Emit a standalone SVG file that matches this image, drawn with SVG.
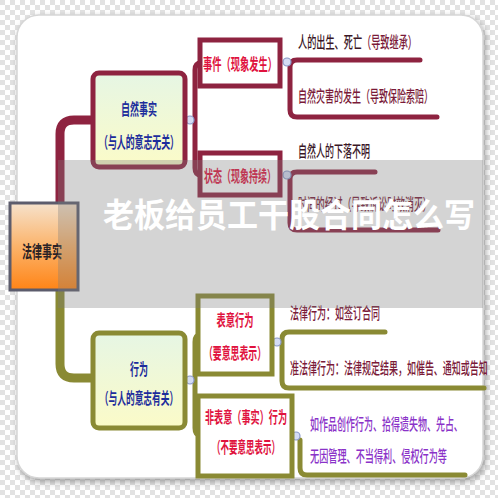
<svg xmlns="http://www.w3.org/2000/svg" width="498" height="498" viewBox="0 0 498 498">
<defs>
<pattern id="chk" width="10" height="10" patternUnits="userSpaceOnUse">
<rect width="10" height="10" fill="#ffffff"/>
<rect width="5" height="5" fill="#e2e2e2"/>
<rect x="5" y="5" width="5" height="5" fill="#e2e2e2"/>
</pattern>
<filter id="sh" x="-5%" y="-5%" width="110%" height="110%">
<feDropShadow dx="2" dy="3" stdDeviation="3" flood-color="#666" flood-opacity="0.6"/>
</filter>
<linearGradient id="gy" x1="0" y1="0" x2="0" y2="1">
<stop offset="0" stop-color="#e6f6e4"/>
<stop offset="1" stop-color="#fbfbc8"/>
</linearGradient>
<linearGradient id="go" x1="0" y1="0" x2="0" y2="1">
<stop offset="0" stop-color="#f6e2cc"/>
<stop offset="0.5" stop-color="#fbb36a"/>
<stop offset="1" stop-color="#ff8416"/>
</linearGradient>
<style>
.red{fill:none;stroke:#8e2340;stroke-width:5;stroke-linecap:round;stroke-linejoin:round}
.olv{fill:none;stroke:#8a8a34;stroke-width:5;stroke-linecap:round;stroke-linejoin:round}
.trunk{stroke-width:9}
.bxr{stroke:#8e2340;stroke-width:5}
.bxo{stroke:#8a8a34;stroke-width:5}
.dot{fill:#d4dcf4;stroke:#8a98c8;stroke-width:1.2}
text{font-family:"Noto Sans CJK SC","Noto Sans",sans-serif;font-size:16px;font-weight:500;dominant-baseline:central}
.lbl{font-weight:700;text-anchor:middle}
.blue{fill:#1c2c9c}
.rd{fill:#e0123e}
.dk{fill:#3a1626}
.mr{fill:#7a1a38}
.pu{fill:#8a32c8}
.big{font-size:33px;font-weight:700;fill:#ffffff}
.fl{font-size:17px;fill:#2a2226}
</style>
</defs>
<rect width="498" height="498" fill="url(#chk)"/>
<rect x="17" y="15" width="466" height="463" rx="22" fill="#ffffff" stroke="#d6d6d6" stroke-width="1.5" filter="url(#sh)"/>

<g id="connectors">
<path class="red trunk" d="M60 203 V134 Q60 120 74 120 H95"/>
<path class="olv trunk" d="M60 290 V364 Q60 378 74 378 H95"/>
<path class="red" d="M201 63 Q195 63 195 70 V168 Q195 175 201 175"/>
<path class="red" d="M420 60 H297 Q290 60 290 67 V110 Q290 117 297 117 H437"/>
<path class="red" d="M375 172 H297 Q290 172 290 179 V223 Q290 230 297 230 H438"/>
<path class="olv" d="M200 335 Q195 335 195 342 V428 Q195 435 200 435"/>
<path class="olv" d="M385 332 H289 Q282 332 282 339 V381 Q282 388 289 388 H484"/>
<path class="olv" d="M300 440 V468 Q300 475 307 475 H465"/>
<circle class="dot" cx="190" cy="120" r="4"/>
<circle class="dot" cx="190" cy="380" r="4"/>
<circle class="dot" cx="287" cy="62" r="4"/>
<circle class="dot" cx="287" cy="175" r="4"/>
<circle class="dot" cx="277" cy="342" r="4"/>
<circle class="dot" cx="296" cy="436" r="4"/>
</g>

<g id="n-falv">
<rect x="10" y="203" width="68" height="87" fill="url(#go)" stroke="#5c5c6c" stroke-width="3"/>
<text class="lbl fl" transform="translate(42,251) scale(0.59,1)">法律事实</text>
</g>

<g id="n-ziran">
<rect class="bxr" x="93" y="73" width="92" height="94" rx="6" fill="url(#gy)"/>
<text class="lbl blue" transform="translate(139,108) scale(0.5625,1)">自然事实</text>
<text class="lbl blue" transform="translate(139,141) scale(0.556,1)">（与人的意志无关）</text>
</g>

<g id="n-xingwei">
<rect class="bxo" x="93" y="333" width="92" height="95" rx="6" fill="url(#gy)"/>
<text class="lbl blue" transform="translate(139,368) scale(0.5625,1)">行为</text>
<text class="lbl blue" transform="translate(139,397) scale(0.545,1)">（与人的意志有关）</text>
</g>

<g id="n-shijian">
<rect class="bxr" x="200" y="40" width="80" height="46" fill="#ffffff"/>
<text class="lbl rd" transform="translate(240,63) scale(0.578,1)">事件（现象发生）</text>
</g>

<g id="n-zhuangtai">
<rect class="bxr" x="200" y="153" width="80" height="42" fill="#ffffff"/>
<text class="lbl rd" transform="translate(240,175) scale(0.5625,1)">状态（现象持续）</text>
</g>

<g id="n-biaoyi">
<rect class="bxo" x="198" y="296" width="74" height="78" fill="#ffffff"/>
<text class="lbl rd" transform="translate(235,319) scale(0.578,1)">表意行为</text>
<text class="lbl rd" transform="translate(235,352) scale(0.554,1)">（要意思表示）</text>
</g>

<g id="n-feibiaoyi">
<rect class="bxo" x="198" y="396" width="94" height="80" fill="#ffffff"/>
<text class="lbl rd" transform="translate(246,416) scale(0.57,1)">非表意（事实）行为</text>
<text class="lbl rd" transform="translate(246,446) scale(0.53,1)">（不要意思表示）</text>
</g>

<g id="leaf-1"><text transform="translate(298,41) scale(0.573,1)"><tspan class="dk">人的出生、死亡</tspan><tspan class="mr">（导致继承）</tspan></text></g>
<g id="leaf-2"><text class="mr" transform="translate(298,95) scale(0.5625,1)">自然灾害的发生（导致保险索赔）</text></g>
<g id="leaf-3"><text class="dk" transform="translate(298,150) scale(0.5625,1)">自然人的下落不明</text></g>
<g id="leaf-4"><text class="mr" transform="translate(298,203) scale(0.558,1)">时间的经过（导致诉讼时效消灭）</text></g>
<g id="leaf-5"><text class="mr" transform="translate(290,312) scale(0.5625,1)">法律行为：如签订合同</text></g>
<g id="leaf-6"><text class="mr" transform="translate(290,367) scale(0.5625,1)">准法律行为：法律规定结果，如催告、通知或告知</text></g>
<g id="leaf-7">
<text class="pu" transform="translate(310,423) scale(0.5625,1)">如作品创作行为、拾得遗失物、先占、</text>
<text class="pu" transform="translate(310,455) scale(0.571,1)">无因管理、不当得利、侵权行为等</text>
</g>

<rect x="58" y="160" width="425" height="148" fill="#7c7c7c" fill-opacity="0.33"/>
<text class="big" transform="translate(103,213) scale(0.94,1)">老板给员工干股合同怎么写</text>
</svg>
